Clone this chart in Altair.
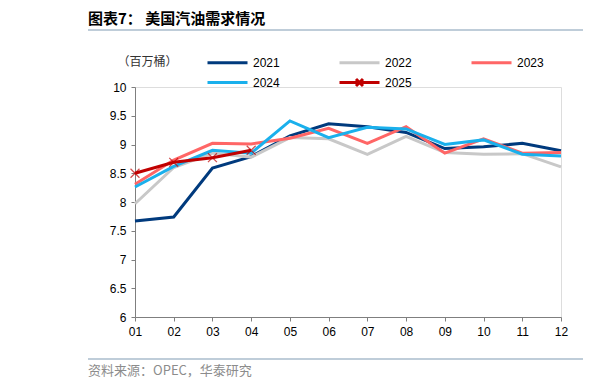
import altair as alt
import pandas as pd

# ---- data ----
months = ["01", "02", "03", "04", "05", "06", "07", "08", "09", "10", "11", "12"]
years = ["2021", "2022", "2023", "2024", "2025"]
colors = ["#003a7d", "#c8c8c8", "#ff6666", "#1ab0ec", "#c00000"]

v2021 = [7.67, 7.74, 8.59, 8.79, 9.15, 9.36, 9.31, 9.21, 8.93, 8.96, 9.02, 8.89]
v2022 = [7.97, 8.60, 8.85, 8.78, 9.12, 9.10, 8.83, 9.14, 8.86, 8.83, 8.84, 8.61]
v2023 = [8.31, 8.73, 9.02, 9.01, 9.11, 9.28, 9.02, 9.31, 8.85, 9.10, 8.85, 8.86]
v2024 = [8.26, 8.62, 8.90, 8.85, 9.41, 9.12, 9.30, 9.27, 9.00, 9.08, 8.83, 8.80]
v2025 = [8.50, 8.69, 8.77, 8.90]

title_text = "图表7：  美国汽油需求情况"
unit_text = "（百万桶）"
source_text = "资料来源：OPEC，华泰研究"

series = {"2021": v2021, "2022": v2022, "2023": v2023, "2024": v2024, "2025": v2025}
rows = []
for yr, vals in series.items():
    for m, v in zip(months, vals):
        rows.append({"month": m, "year": yr, "value": v})
df = pd.DataFrame(rows)

FONT = "Liberation Sans"
CJK = "Noto Sans CJK SC"
AXIS_COLOR = "#7f7f7f"
SEP_COLOR = "#aabccc"

x_enc = alt.X(
    "month:O",
    sort=months,
    scale=alt.Scale(type="point", padding=0),
    axis=alt.Axis(
        title=None, labelAngle=0, labelFont=FONT, labelFontSize=12, labelColor="#000000",
        labelPadding=5, tickSize=4, tickColor=AXIS_COLOR, domainColor=AXIS_COLOR,
        grid=False,
    ),
)
y_enc = alt.Y(
    "value:Q",
    scale=alt.Scale(domain=[6, 10], nice=False, zero=False),
    axis=alt.Axis(
        title=unit_text, titleAngle=0, titleFont=CJK, titleFontSize=12,
        titleFontWeight="normal", titleColor="#333333",
        titleX=12, titleY=-26, titleAlign="center", titleBaseline="middle",
        values=[6, 6.5, 7, 7.5, 8, 8.5, 9, 9.5, 10], format=".1~f",
        labelFont=FONT, labelFontSize=12, labelColor="#000000", labelPadding=5,
        tickSize=4, tickColor=AXIS_COLOR, domainColor=AXIS_COLOR, grid=False,
    ),
)

line_path = "M-4,0L4,0"
x_path = "M-4,0L4,0M-0.7,-0.7L0.7,0.7M-0.7,0.7L0.7,-0.7"

color_scale = alt.Scale(domain=years, range=colors)

legend = alt.Legend(
    title=None, orient="none", legendX=86, legendY=-31, columns=3, direction="horizontal",
    labelFont=FONT, labelFontSize=12, labelColor="#000000", labelOffset=19,
    symbolSize=100, symbolStrokeWidth=3, columnPadding=53, rowPadding=4, padding=0,
    symbolOpacity=1,
)

lines = alt.Chart(df).mark_line(strokeWidth=3).encode(
    x=x_enc, y=y_enc,
    color=alt.Color("year:N", scale=color_scale, legend=legend),
)

# legend helper layer (no data drawn) to give each legend entry its line/line+marker symbol
legend_layer = alt.Chart(df).transform_filter("false").mark_point(
    filled=False, size=100, strokeWidth=3
).encode(
    x=x_enc, y=y_enc,
    color=alt.Color("year:N", scale=color_scale, legend=legend),
    shape=alt.Shape("year:N", scale=alt.Scale(domain=years,
                    range=[line_path, line_path, line_path, line_path, x_path]), legend=legend),
)

markers = alt.Chart(df).transform_filter("datum.year == '2025'").mark_point(
    shape="M-1,-1L1,1M-1,1L1,-1", size=80, filled=False, strokeWidth=1.2, color="#c00000",
).encode(x=x_enc, y=y_enc)

# decorations
title = alt.Chart(pd.DataFrame({"t": [title_text]})).mark_text(
    font=CJK, fontSize=15, fontWeight="bold", align="left", baseline="middle", color="#000000"
).encode(text="t:N", x=alt.value(-47), y=alt.value(-68))

source = alt.Chart(pd.DataFrame({"t": [source_text]})).mark_text(
    font=CJK, fontSize=13, align="left", baseline="middle", color="#8c8c8c"
).encode(text="t:N", x=alt.value(-47), y=alt.value(284))

rule_top = alt.Chart(pd.DataFrame({"a": [0]})).mark_rule(color=SEP_COLOR, strokeWidth=1.5).encode(
    x=alt.value(-47), x2=alt.value(448), y=alt.value(-57))
rule_bot = alt.Chart(pd.DataFrame({"a": [0]})).mark_rule(color=SEP_COLOR, strokeWidth=1.5).encode(
    x=alt.value(-47), x2=alt.value(448), y=alt.value(272))

chart = alt.layer(lines, legend_layer, markers, title, source, rule_top, rule_bot).properties(
    width=426, height=230,
    autosize=alt.AutoSizeParams(type="none"),
    padding={"left": 127, "top": 79, "right": 47, "bottom": 64},
).configure_view(stroke=None).configure(background="white")

chart.save("out.html", embed_options={"renderer": "svg", "actions": False})
